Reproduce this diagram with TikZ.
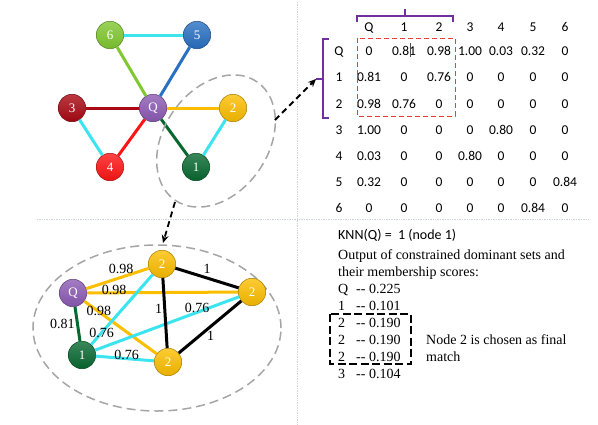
\documentclass[tikz,border=0pt]{standalone}
\usepackage{fontspec}
\setmainfont{Liberation Serif}
\newfontfamily\carlito{Carlito}
\usetikzlibrary{arrows.meta}
\definecolor{sixgreen}{RGB}{128,200,48}
\definecolor{fiveblue}{RGB}{40,112,195}
\definecolor{threered}{RGB}{170,8,18}
\definecolor{qpurple}{RGB}{140,90,180}
\definecolor{twoyellow}{RGB}{252,190,0}
\definecolor{fourred}{RGB}{255,20,20}
\definecolor{onegreen}{RGB}{8,105,48}
\definecolor{cyanedge}{RGB}{60,228,240}
\definecolor{ringgray}{RGB}{165,165,165}
\definecolor{bracepurple}{RGB}{112,48,160}
\definecolor{boxred}{RGB}{238,60,60}
\definecolor{rulegray}{RGB}{205,212,222}
\tikzset{vertex/.style={circle,minimum size=27.5pt,inner sep=0pt,
    top color=#1!80!white,bottom color=#1!92!black,draw=#1!65!black,
    line width=0.5pt,text=white,font=\fontsize{13}{13}\selectfont}}
\tikzset{link/.style={line width=3pt,draw=#1}}
\tikzset{weight/.style={font=\fontsize{14}{14}\selectfont,inner sep=0pt}}
\tikzset{cell/.style={font=\carlito\fontsize{13.5}{13.5}\selectfont,inner sep=0pt,
    text height=8.6pt,text depth=0pt}}
\tikzset{group/.style={draw=ringgray,line width=1.5pt,dash pattern=on 9pt off 5pt}}
\tikzset{jump/.style={line width=1.8pt,dash pattern=on 6pt off 4pt,
    -{Stealth[length=8pt,width=7pt]}}}
\tikzset{brace/.style={draw=bracepurple,line width=2pt}}
\tikzset{score/.style={font=\fontsize{14}{17}\selectfont,inner sep=0pt,anchor=base west}}
\begin{document}
\begin{tikzpicture}[x=1pt,y=-1pt]
                \useasboundingbox (0,0) rectangle (598,424);

                % Dividers
                \draw[rulegray,line width=0.7pt,densely dotted] (297,2) -- (297,424);
                \draw[rulegray,line width=0.7pt,densely dotted] (37,219) -- (588,219);

                % Full graph
                \node[vertex=sixgreen] (n6) at (110,35) {6};
                \node[vertex=fiveblue] (n5) at (197,35) {5};
                \node[vertex=threered] (n3) at (72,108) {3};
                \node[vertex=qpurple] (nQ) at (153,108) {Q};
                \node[vertex=twoyellow] (n2) at (233,108) {2};
                \node[vertex=fourred] (n4) at (110,167) {4};
                \node[vertex=onegreen] (n1) at (196,167) {1};
                \draw[link=cyanedge] (n6) -- (n5);
                \draw[link=sixgreen] (n6) -- (nQ);
                \draw[link=fiveblue] (n5) -- (nQ);
                \draw[link=threered] (n3) -- (nQ);
                \draw[link=twoyellow] (nQ) -- (n2);
                \draw[link=fourred] (nQ) -- (n4);
                \draw[link=onegreen] (nQ) -- (n1);
                \draw[link=cyanedge] (n3) -- (n4);
                \draw[link=cyanedge] (n1) -- (n2);

                % Neighbourhood rings
                \draw[group,rotate around={55:(216,141)}] (216,141) ellipse [x radius=72pt,y radius=52pt];
                \draw[group] (157,328) ellipse [x radius=124pt,y radius=83pt];

                % Sub graph
                \node[vertex=qpurple] (sQ) at (73,293) {Q};
                \node[vertex=onegreen] (s1) at (82,355) {1};
                \node[vertex=twoyellow] (s2a) at (162,264) {2};
                \node[vertex=twoyellow] (s2b) at (252,292) {2};
                \node[vertex=twoyellow] (s2c) at (168,362) {2};
                \draw[link=twoyellow] (sQ) -- node[weight,pos=.56,yshift=8pt] {0.98} (s2a);
                \draw[link=twoyellow] (sQ) -- node[weight,pos=.18,yshift=3pt] {0.98} (s2b);
                \draw[link=twoyellow] (sQ) -- node[weight,pos=.2,yshift=1pt] {0.98} (s2c);
                \draw[link=onegreen] (sQ) -- node[weight,pos=.5,anchor=east,xshift=-1.5pt] {0.81} (s1);
                \draw[link=cyanedge] (s1) -- node[weight,pos=.17] {0.76} (s2a);
                \draw[link=cyanedge] (s1) -- node[weight,pos=.71,yshift=4pt] {0.76} (s2b);
                \draw[link=cyanedge] (s1) -- node[weight,pos=.53,yshift=3.5pt] {0.76} (s2c);
                \draw[link=black] (s2a) -- node[weight,pos=.5,yshift=9pt] {1} (s2b);
                \draw[link=black] (s2a) -- node[weight,pos=.44,xshift=-6pt] {1} (s2c);
                \draw[link=black] (s2b) -- node[weight,pos=.49,yshift=-9pt] {1} (s2c);

                % Affinity matrix
                \foreach \lab/\x [count=\c] in {Q/369,1/404,2/439,3/470,4/501,5/533,6/565}
                    \node[cell] (col\c) at (\x,27) {\lab};
                \foreach \lab/\y [count=\r] in {Q/51,1/77,2/104,3/130,4/156,5/182,6/208}
                    \node[cell] (row\r) at (339,\y) {\lab};
                \foreach \vals [count=\r] in {{0,0.81,0.98,1.00,0.03,0.32,0},{0.81,0,0.76,0,0,0,0},
                        {0.98,0.76,0,0,0,0,0},{1.00,0,0,0,0.80,0,0},{0.03,0,0,0.80,0,0,0},
                        {0.32,0,0,0,0,0,0.84},{0,0,0,0,0,0.84,0}}
                    \foreach \v [count=\c] in \vals
                        \node[cell] (c\r\c) at (col\c |- row\r) {\v};
                \draw[black!70,line width=0.5pt] (410,43) -- (410,57);
                \draw[boxred,line width=1pt,dash pattern=on 5pt off 3pt] (357,38) rectangle (455,116);

                % Brackets
                \coordinate (rowbrace) at (316,79);
                \draw[brace] (357,22) -- (357,16) -- (453,16) -- (453,22);
                \draw[brace] (405,16) -- (405,9);
                \draw[brace] (329,39) -- (323,39) -- (323,118) -- (329,118);
                \draw[brace] (323,79) -- (rowbrace);

                % Arrows
                \coordinate (fromtop) at (275,120);
                \draw[jump] (fromtop) -- (rowbrace);
                \coordinate (fromring) at (175,202);
                \coordinate (toring) at (163,243);
                \draw[jump] (fromring) -- (toring);

                % Scores
                \node[score,font=\carlito\fontsize{14}{14}\selectfont] (knn) at (338,239) {KNN(Q) = \ 1 (node 1)};
                \node[score] (out1) at (338,259) {Output of constrained dominant sets and};
                \node[score] (out2) at (338,276) {their membership scores:};
                \foreach \k/\s [count=\i] in {Q/0.225,1/0.101,2/0.190,2/0.190,2/0.190,3/0.104} {
                    \node[score] (sk\i) at (338,276+17*\i) {\k};
                    \node[score] (sv\i) at (356,276+17*\i) {-{}- \s};
                }
                \draw[line width=1.6pt,dash pattern=on 8pt off 3.5pt] (330,314) rectangle (411,364);
                \node[score] (pick1) at (426,344) {Node 2 is chosen as final};
                \node[score] (pick2) at (426,361) {match};
            \end{tikzpicture}
\end{document}
